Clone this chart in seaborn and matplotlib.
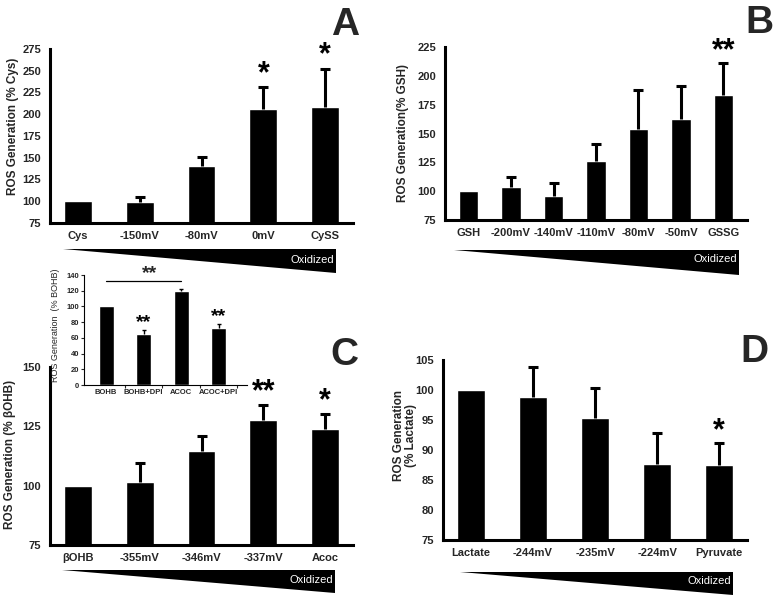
import matplotlib
matplotlib.use('Agg')
import matplotlib.pyplot as plt
import seaborn as sns
from matplotlib.patches import Polygon

sns.set_theme(style='white')
plt.rcParams['font.family'] = ['Liberation Sans', 'DejaVu Sans']
plt.rcParams['font.weight'] = 'bold'

# ---------------- data ----------------
a_labels = ['Cys', '-150mV', '-80mV', '0mV', 'CySS']
a_values = [100, 99.5, 140.5, 206, 208.5]
a_errors = [0, 5, 10.5, 25.7, 44]
a_stars = ['', '', '', '*', '*']
a_yticks = [75, 100, 125, 150, 175, 200, 225, 250, 275]

b_labels = ['GSH', '-200mV', '-140mV', '-110mV', '-80mV', '-50mV', 'GSSG']
b_values = [100, 103.3, 96, 126, 153.6, 163, 183.4]
b_errors = [0, 9.3, 10.8, 14.7, 34, 28.5, 27.5]
b_stars = ['', '', '', '', '', '', '**']
b_yticks = [75, 100, 125, 150, 175, 200, 225]

c_labels = ['βOHB', '-355mV', '-346mV', '-337mV', 'Acoc']
c_values = [100, 101.6, 114.6, 127.8, 123.7]
c_errors = [0, 8, 6.3, 6.3, 6.6]
c_stars = ['', '', '', '**', '*']
c_yticks = [75, 100, 125, 150]

i_labels = ['BOHB', 'BOHB+DPI', 'ACOC', 'ACOC+DPI']
i_values = [100, 65.3, 119.2, 73]
i_errors = [0, 5, 3, 5]
i_stars = ['', '**', '', '**']
i_yticks = [0, 20, 40, 60, 80, 100, 120, 140]
i_bracket = (0, 2, 132.8, '**')

d_labels = ['Lactate', '-244mV', '-235mV', '-224mV', 'Pyruvate']
d_values = [100, 98.9, 95.4, 87.7, 87.5]
d_errors = [0, 4.9, 4.9, 5.2, 3.6]
d_stars = ['', '', '', '', '*']
d_yticks = [75, 80, 85, 90, 95, 100, 105]

W, H = 777, 600
fig = plt.figure(figsize=(W / 100, H / 100), dpi=100)


def px_axes(x0, y0, x1, y1):
    return fig.add_axes([x0 / W, 1 - y1 / H, (x1 - x0) / W, (y1 - y0) / H])


def bars(ax, labels, values, errors, stars, width, elw, capw, star_size, star_off):
    sns.barplot(x=labels, y=values, color='black', saturation=1, width=width,
                errorbar=None, ax=ax)
    idx = [i for i, e in enumerate(errors) if e > 0]
    lows = [values[i] for i in idx]
    tops = [values[i] + errors[i] for i in idx]
    ax.vlines(idx, lows, tops, color='black', linewidth=elw)
    ax.plot(idx, tops, linestyle='none', marker='_', markersize=capw,
            markeredgewidth=elw, color='black', clip_on=False)
    for i, s in enumerate(stars):
        if s:
            ax.annotate(s, xy=(i, values[i] + errors[i]), xytext=(0, star_off),
                        textcoords='offset points', ha='center', va='baseline',
                        fontsize=star_size, fontweight='bold', color='black',
                        annotation_clip=False)


def style_main(ax, ylim, yticks, ylabel, lab_xy, ylab_kw=None):
    ax.set_ylim(ylim)
    ax.set_yticks(yticks)
    ax.set_xlabel('')
    for s in ['top', 'right']:
        ax.spines[s].set_visible(False)
    for s in ['left', 'bottom']:
        ax.spines[s].set_linewidth(2.2)
        ax.spines[s].set_color('black')
    ax.tick_params(axis='y', length=0, labelsize=8, pad=6.5)
    ax.tick_params(axis='x', length=0, labelsize=8, pad=6)
    for t in ax.get_xticklabels() + ax.get_yticklabels():
        t.set_fontweight('bold')
    ax.set_ylabel(ylabel, fontsize=8.5, fontweight='bold', **(ylab_kw or {}))
    ax.yaxis.set_label_coords(*lab_xy)
    ax.yaxis.label.set_va('center')
    ax.set_facecolor('white')


def wedge(x0, y0, x1, y1, ty):
    pts = [(x0 / W, 1 - y0 / H), (x1 / W, 1 - y0 / H), (x1 / W, 1 - y1 / H)]
    fig.add_artist(Polygon(pts, closed=True, facecolor='black', edgecolor='none',
                           transform=fig.transFigure))
    fig.text((x1 - 2) / W, 1 - ty / H, 'Oxidized', color='white', fontsize=8,
             fontweight='normal', ha='right', va='baseline')


def letter(x, y, s):
    fig.text(x / W, 1 - y / H, s, fontsize=28, fontweight='bold',
             ha='center', va='baseline')


# ---------------- Panel A ----------------
axA = px_axes(50, 49, 353, 223)
bars(axA, a_labels, a_values, a_errors, a_stars, 0.45, 2.2, 6.5, 22, 3.5)
style_main(axA, (75, 275), a_yticks, 'ROS Generation (% Cys)', (-0.122, 0.557))
wedge(63, 249, 336, 273, 263)
letter(345, 35, 'A')

# ---------------- Panel B ----------------
axB = px_axes(445, 47, 747, 220)
bars(axB, b_labels, b_values, b_errors, b_stars, 0.46, 2.2, 6.5, 22, 3.0)
style_main(axB, (75, 225), b_yticks, 'ROS Generation(% GSH)', (-0.139, 0.5))
wedge(454, 250, 739, 275, 262)
letter(759, 33, 'B')

# ---------------- Panel C ----------------
axC = px_axes(50, 367, 353, 545)
bars(axC, c_labels, c_values, c_errors, c_stars, 0.45, 2.2, 6.5, 22, 3.0)
style_main(axC, (75, 150), c_yticks, 'ROS Generation (% βOHB)', (-0.132, 0.506))
wedge(62, 570, 335, 593, 583)
letter(344, 365, 'C')

# inset
axI = px_axes(84, 275, 247, 385)
bars(axI, i_labels, i_values, i_errors, i_stars, 0.4, 1.0, 3.0, 14, 2.0)
axI.set_xlim(-0.59, 3.76)
axI.set_ylim(0, 140)
axI.set_yticks(i_yticks)
axI.set_xlabel('')
for s in ['top', 'right']:
    axI.spines[s].set_visible(False)
for s in ['left', 'bottom']:
    axI.spines[s].set_linewidth(0.8)
    axI.spines[s].set_color('black')
axI.tick_params(axis='y', length=2, width=0.8, labelsize=5.5, pad=1.5, left=True)
axI.tick_params(axis='x', length=0, labelsize=5.5, pad=3)
axI.set_xticks([0.5, 1.5, 2.5, 3.5], minor=True)
axI.tick_params(axis='x', which='minor', length=2, width=0.8, bottom=True)
for t in axI.get_xticklabels() + axI.get_yticklabels():
    t.set_fontweight('bold')
axI.set_ylabel('ROS Generation  (% BOHB)', fontsize=6.5, fontweight='normal')
axI.yaxis.set_label_coords(-0.172, 0.545)
axI.yaxis.label.set_va('center')
axI.set_facecolor('white')
b0, b1, by, bs = i_bracket
axI.plot([b0, b1], [by, by], color='black', lw=0.9, clip_on=False)
axI.annotate(bs, xy=((b0 + b1) / 2 + 0.15, by), xytext=(0, 1.5),
             textcoords='offset points', ha='center', va='baseline',
             fontsize=14, fontweight='bold', annotation_clip=False)

# ---------------- Panel D ----------------
axD = px_axes(443, 360, 747, 540)
bars(axD, d_labels, d_values, d_errors, d_stars, 0.45, 2.2, 6.5, 22, 3.0)
style_main(axD, (75, 105), d_yticks, 'ROS Generation\n(% Lactate)', (-0.125, 0.583),
           ylab_kw=dict(linespacing=1.05))
wedge(460, 572, 733, 595, 584)
letter(754, 362, 'D')

fig.savefig('out.png', dpi=100, facecolor='white')
